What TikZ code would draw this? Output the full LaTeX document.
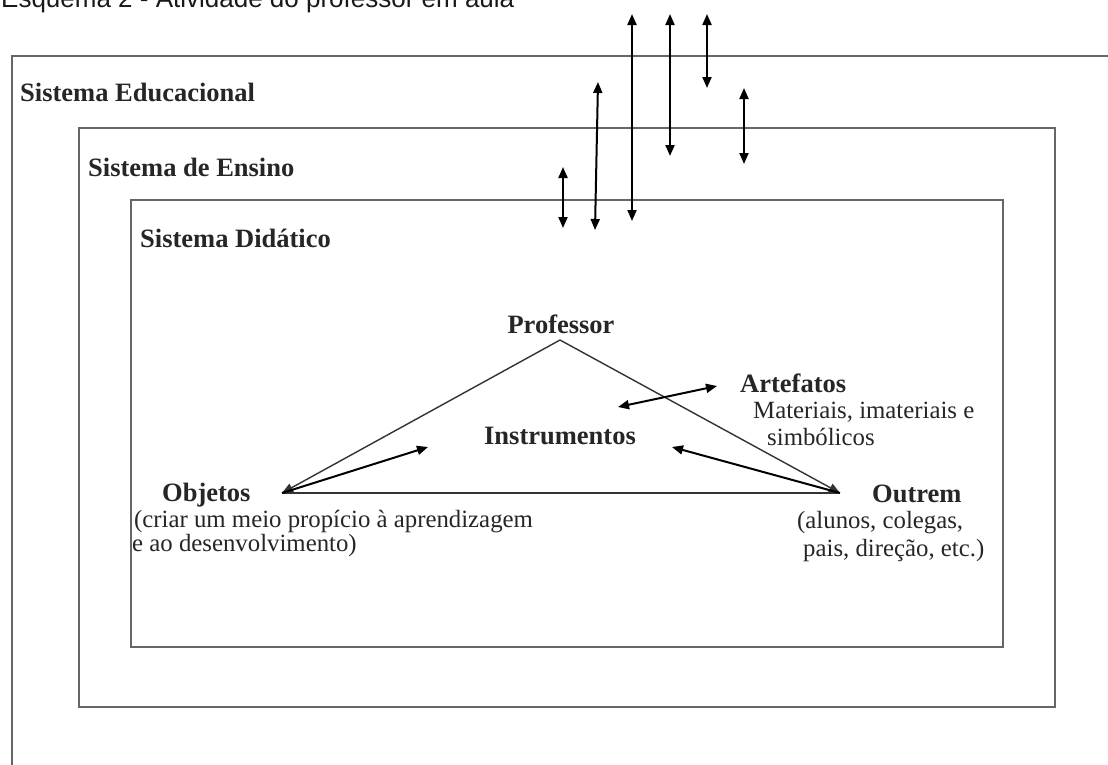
\documentclass[tikz,border=0pt]{standalone}
\usepackage{fontspec}
\setmainfont{Liberation Serif}
\newfontfamily\titlefont{Liberation Sans}
\usetikzlibrary{arrows.meta}
\begin{document}
\begin{tikzpicture}[x=1pt,y=-1pt,
  boxline/.style={draw=black!60, line width=2pt},
  triline/.style={draw=black!80, line width=1.4pt},
  arr/.style={draw=black, line width=2pt, {Triangle[length=11pt,width=9pt]}-{Triangle[length=11pt,width=9pt]}},
  arrone/.style={draw=black, line width=2pt, -{Triangle[length=11pt,width=9pt]}},
  bl/.style={inner sep=0pt, anchor=base west, font=\fontsize{26.5}{30}\selectfont\bfseries, text=black!85},
  blc/.style={inner sep=0pt, anchor=base, font=\fontsize{26.5}{30}\selectfont\bfseries, text=black!85},
  nl/.style={inner sep=0pt, anchor=base west, font=\fontsize{24.8}{28}\selectfont, text=black!85},
  ttl/.style={inner sep=0pt, anchor=base west, font=\titlefont\fontsize{26}{30}\selectfont, text=black!90}
]
\useasboundingbox (0,0) rectangle (1108,764);
\fill[white] (0,0) rectangle (1108,764);

% title (cropped at top)
\node[ttl] (title) at (1,7) {Esquema 2 - Atividade do professor em aula};

% nested systems
\draw[boxline] (1110,56) -- (12,56) -- (12,766);
\draw[boxline] (79,128) rectangle (1055,707);
\draw[boxline] (131,200) rectangle (1003,647);

\node[bl] (educ) at (20,101) {Sistema Educacional};
\node[bl] (ens) at (88,176) {Sistema de Ensino};
\node[bl] (did) at (140,247) {Sistema Didático};

% vertical exchange arrows
\coordinate (a1) at (563,167); \coordinate (b1) at (563,228);
\coordinate (a2) at (598,82);  \coordinate (b2) at (595,230);
\coordinate (a3) at (632,14);  \coordinate (b3) at (632,221);
\coordinate (a4) at (670,14);  \coordinate (b4) at (670,156);
\coordinate (a5) at (707,14);  \coordinate (b5) at (707,88);
\coordinate (a6) at (744,88);  \coordinate (b6) at (744,164);
\foreach \i in {1,...,6} { \draw[arr] (a\i) -- (b\i); }

% triangle
\coordinate (P) at (560,340);
\coordinate (O) at (282,493);
\coordinate (U) at (840,493);
\draw[triline] (O) -- (U);
\draw[triline, -{Triangle[length=11pt,width=9pt]}] (P) -- (O);
\draw[triline, -{Triangle[length=11pt,width=9pt]}] (P) -- (U);

\node[blc] (prof) at (561,333) {Professor};
\node[blc] (instr) at (560,444) {Instrumentos};
\node[bl] (artef) at (740,392) {Artefatos};
\node[nl] (mat1) at (753,418) {Materiais, imateriais e};
\node[nl] (mat2) at (767,445) {simbólicos};
\node[bl] (obj) at (162,501) {Objetos};
\node[nl] (obj1) at (134,527) {(criar um meio propício à aprendizagem};
\node[nl] (obj2) at (132,551) {e ao desenvolvimento)};
\node[bl] (outr) at (872,502) {Outrem};
\node[nl] (out1) at (797,528) {(alunos, colegas,};
\node[nl] (out2) at (803,556) {pais, direção, etc.)};

% arrows towards instruments
\coordinate (iO) at (428,447);
\coordinate (iU) at (672,447);
\coordinate (iA1) at (618,407);
\coordinate (iA2) at (717,386);
\draw[arrone] (O) -- (iO);
\draw[arrone] (U) -- (iU);
\draw[arr] (iA1) -- (iA2);
\end{tikzpicture}
\end{document}
